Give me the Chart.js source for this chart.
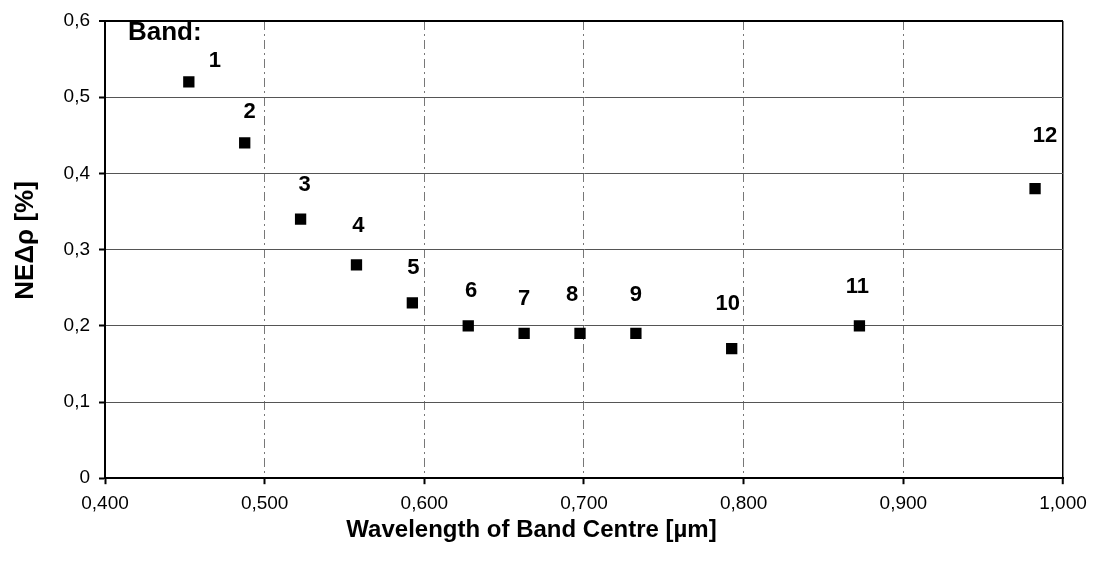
<!DOCTYPE html>
<html>
<head>
<meta charset="utf-8">
<title>NEΔρ per band</title>
<script src="https://cdn.jsdelivr.net/npm/chart.js@4"></script>
<style>
  html, body { margin: 0; padding: 0; background: #fff; }
  #wrap { width: 1097px; height: 561px; }
</style>
</head>
<body>
<div id="wrap"><canvas id="chart" width="1097" height="561"></canvas></div>
<script>
/* Noise-equivalent reflectance per band vs. band centre wavelength */

var bandNumbers = ["1", "2", "3", "4", "5", "6", "7", "8", "9", "10", "11", "12"];
var bandCentres = [0.4525, 0.4875, 0.5225, 0.5575, 0.5925, 0.6275, 0.6625, 0.6975, 0.7325, 0.7925, 0.8725, 0.9825];
var noiseRho    = [0.52, 0.44, 0.34, 0.28, 0.23, 0.20, 0.19, 0.19, 0.19, 0.17, 0.20, 0.38];
var xTickLabels = ["0,400", "0,500", "0,600", "0,700", "0,800", "0,900", "1,000"];
var yTickLabels = ["0", "0,1", "0,2", "0,3", "0,4", "0,5", "0,6"];

var FONT = "'Liberation Sans', Arial, Helvetica, sans-serif";

// label offsets (px) relative to each marker, as placed in the original
var labelOffsets = [
  [26, -21], [5, -31], [4, -34], [2, -39], [1, -35], [3, -35],
  [0, -34], [-8, -38], [0, -38], [-4, -45], [-2, -39], [10, -53]
];

var bandLabels = {
  id: "bandLabels",
  afterDatasetsDraw: function (chart) {
    var ctx = chart.ctx;
    var area = chart.chartArea;
    var meta = chart.getDatasetMeta(0);
    ctx.save();
    ctx.fillStyle = "#000";
    ctx.textAlign = "center";
    ctx.textBaseline = "middle";
    ctx.font = "bold 22px " + FONT;
    meta.data.forEach(function (pt, i) {
      var off = labelOffsets[i] || [0, -36];
      ctx.fillText(bandNumbers[i], pt.x + off[0], pt.y + off[1]);
    });
    // "Band:" caption in the top-left corner of the plot
    ctx.textAlign = "left";
    ctx.font = "bold 26px " + FONT;
    ctx.fillText("Band:", area.left + 23, area.top + 12);

    // y axis title, sits a little above the plot's middle in the original
    ctx.translate(26, area.top + (area.bottom - area.top) * 0.48);
    ctx.rotate(-Math.PI / 2);
    ctx.textAlign = "center";
    ctx.font = "bold 26px " + FONT;
    ctx.fillText("NEΔρ [%]", 0, 0);
    ctx.restore();
  }
};

new Chart(document.getElementById("chart"), {
  type: "scatter",
  data: {
    datasets: [{
      label: "NEΔρ",
      data: bandCentres.map(function (x, i) { return { x: x, y: noiseRho[i] }; }),
      pointStyle: "rect",
      pointRadius: 8,
      pointHoverRadius: 8,
      backgroundColor: "#000",
      borderColor: "#000",
      borderWidth: 0
    }]
  },
  options: {
    responsive: false,
    animation: false,
    layout: { padding: { left: 0, right: 34, top: 21, bottom: 0 } },
    plugins: {
      legend: { display: false },
      tooltip: { enabled: false },
      title: {
        display: true,
        position: "bottom",
        text: "Wavelength of Band Centre [µm]",
        color: "#000",
        font: { family: FONT, size: 24, weight: "bold", lineHeight: 1.2 },
        padding: { top: 0, bottom: 16 }
      }
    },
    scales: {
      x: {
        type: "linear",
        min: 0.4,
        max: 1.0,
        afterFit: function (scale) { scale.height = 38; },
        ticks: {
          stepSize: 0.1,
          color: "#000",
          padding: 8,
          maxRotation: 0,
          font: { family: FONT, size: 19 },
          callback: function (v, i) { return xTickLabels[i]; }
        },
        grid: {
          color: function (c) { return c.tick && Math.abs(c.tick.value - 1) < 1e-6 ? "#000" : "#777"; },
          lineWidth: function (c) { return c.tick && Math.abs(c.tick.value - 1) < 1e-6 ? 1.5 : 1; },
          tickColor: "#000",
          tickWidth: 2,
          tickLength: 6
        },
        border: {
          color: "#000",
          width: 2,
          dash: function (c) { return c.tick && Math.abs(c.tick.value - 1) < 1e-6 ? [] : [9, 4, 2, 4]; }
        }
      },
      y: {
        type: "linear",
        min: 0,
        max: 0.6,
        afterFit: function (scale) { scale.width = 105; },
        ticks: {
          stepSize: 0.1,
          color: "#000",
          padding: 9,
          font: { family: FONT, size: 19 },
          callback: function (v, i) { return yTickLabels[i]; }
        },
        grid: {
          color: function (c) { return c.tick && Math.abs(c.tick.value - 0.6) < 1e-6 ? "#000" : "#555"; },
          lineWidth: function (c) { return c.tick && Math.abs(c.tick.value - 0.6) < 1e-6 ? 2 : 1; },
          tickColor: "#000",
          tickWidth: 2,
          tickLength: 6
        },
        border: { color: "#000", width: 2 }
      }
    }
  },
  plugins: [bandLabels]
});
</script>
</body>
</html>
